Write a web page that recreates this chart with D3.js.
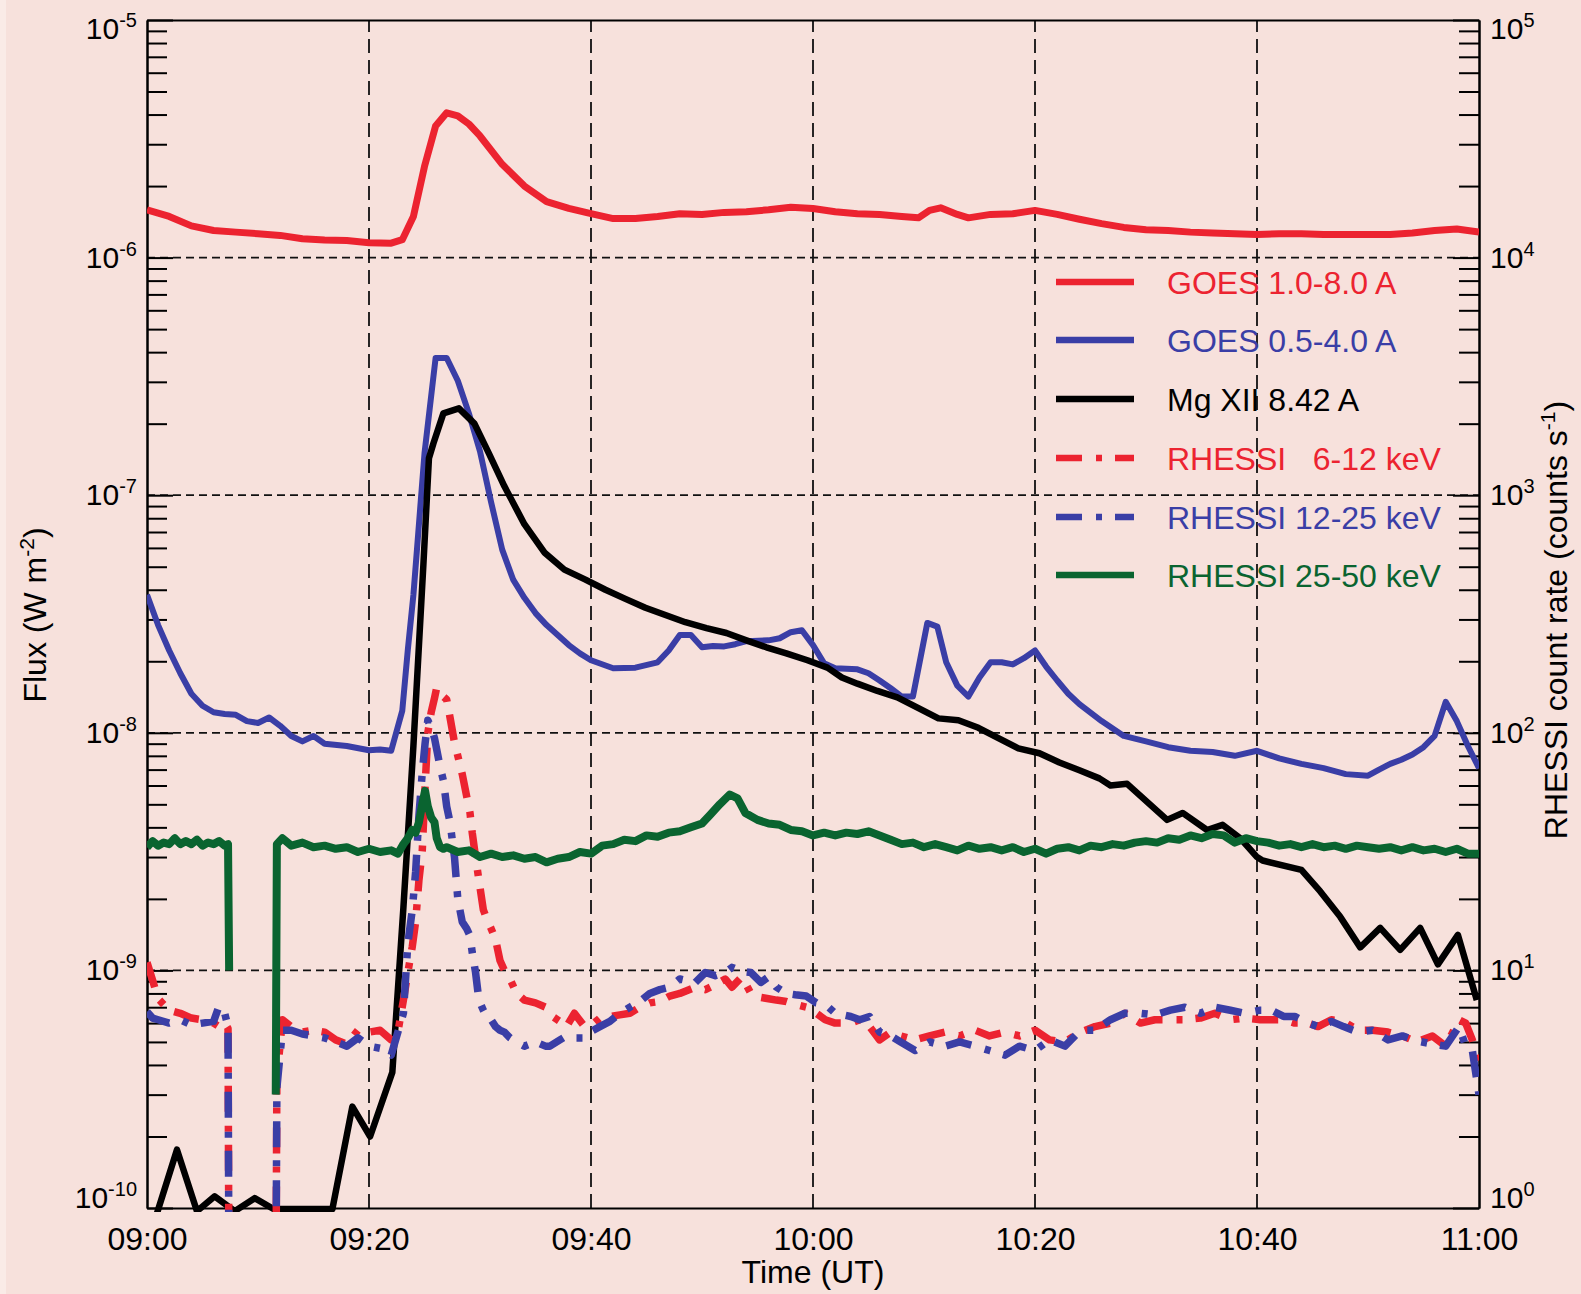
<!DOCTYPE html>
<html>
<head>
<meta charset="utf-8">
<script src="https://cdn.jsdelivr.net/npm/d3@7"></script>
<style>
  html, body { margin: 0; padding: 0; background: #f7e1dc; }
  svg text { font-family: "Liberation Sans", Arial, Helvetica, sans-serif; white-space: pre; }
</style>
</head>
<body>
<svg id="chart" width="1581" height="1294"></svg>
<script>
// ---------------- DATA ----------------
const xTickMinutes = [0, 20, 40, 60, 80, 100, 120];
const xTickLabels = ["09:00", "09:20", "09:40", "10:00", "10:20", "10:40", "11:00"];
const gridMinutes = [20, 40, 60, 80, 100];
const leftDecades = [-10, -9, -8, -7, -6, -5];
const rightDecades = [0, 1, 2, 3, 4, 5];
const gridFlux = [1e-9, 1e-8, 1e-7, 1e-6];

// GOES 1.0-8.0 A (W m^-2)
const goesLongTime = [0,2,4,6,8,10,12,14,16,18,20,22,
  23,24,25,26,27,28,29,30,
  32,34,36,38,40,42,44,46,48,50,52,54,56,58,60,62,64,66,68,
  69.5,70.5,71.5,73,74,
  76,78,80,82,84,86,88,90,92,94,96,98,100,102,104,106,108,110,112,114,116,118,120];
const goesLongFlux = [1.59e-6,1.49e-6,1.36e-6,1.30e-6,1.28e-6,1.26e-6,1.24e-6,1.20e-6,1.185e-6,1.18e-6,1.155e-6,1.15e-6,
  1.19e-6,1.49e-6,2.42e-6,3.58e-6,4.07e-6,3.95e-6,3.65e-6,3.25e-6,
  2.47e-6,2.0e-6,1.72e-6,1.61e-6,1.53e-6,1.46e-6,1.46e-6,1.49e-6,1.53e-6,1.52e-6,1.55e-6,1.56e-6,1.59e-6,1.63e-6,1.61e-6,1.56e-6,1.53e-6,1.52e-6,1.49e-6,
  1.47e-6,1.58e-6,1.62e-6,1.52e-6,1.47e-6,
  1.52e-6,1.53e-6,1.58e-6,1.52e-6,1.45e-6,1.39e-6,1.34e-6,1.31e-6,1.30e-6,1.28e-6,1.27e-6,1.26e-6,1.25e-6,1.26e-6,1.26e-6,1.25e-6,1.25e-6,1.25e-6,1.25e-6,1.27e-6,1.30e-6,1.32e-6,1.28e-6];

// GOES 0.5-4.0 A (W m^-2)
const goesShortTime = [0,1,2,3,4,5,6,7,8,9,10,11,12,13,14,15,16,
  18,20,21,22,
  23,23.5,24,25,26,27,28,29,30,31,32,33,34,35,36,37,38,39,40,
  42,44,46,47,48,49,50,51,52,53,54,
  56,57,58,59,60,61,62,
  64,65,66,67,68,69,
  70.3,71.2,
  72,73,74,75,76,77,78,79,80,81,82,83,84,
  86,88,90,92,94,96,98,100,102,104,106,108,110,
  111,112,113,114,115,116,117,118,119,120];
const goesShortFlux = [3.81e-8,2.84e-8,2.22e-8,1.78e-8,1.46e-8,1.30e-8,1.22e-8,1.20e-8,1.19e-8,1.12e-8,1.10e-8,1.16e-8,1.07e-8,0.97e-8,0.92e-8,0.97e-8,0.90e-8,
  0.88e-8,0.845e-8,0.85e-8,0.84e-8,
  1.24e-8,2.24e-8,3.8e-8,15e-8,37.8e-8,37.8e-8,30.3e-8,22.1e-8,15.3e-8,9.35e-8,5.9e-8,4.4e-8,3.7e-8,3.19e-8,2.84e-8,2.58e-8,2.34e-8,2.16e-8,2.02e-8,
  1.87e-8,1.88e-8,1.98e-8,2.22e-8,2.58e-8,2.58e-8,2.29e-8,2.32e-8,2.31e-8,2.36e-8,2.43e-8,
  2.45e-8,2.5e-8,2.65e-8,2.7e-8,2.34e-8,1.96e-8,1.87e-8,
  1.85e-8,1.78e-8,1.66e-8,1.54e-8,1.42e-8,1.42e-8,
  2.9e-8,2.8e-8,
  1.98e-8,1.58e-8,1.42e-8,1.71e-8,1.98e-8,1.98e-8,1.94e-8,2.06e-8,2.22e-8,1.90e-8,1.66e-8,1.46e-8,1.32e-8,
  1.12e-8,0.97e-8,0.92e-8,0.87e-8,0.84e-8,0.83e-8,0.80e-8,0.84e-8,0.78e-8,0.74e-8,0.71e-8,0.67e-8,0.66e-8,
  0.70e-8,0.74e-8,0.77e-8,0.81e-8,0.87e-8,0.97e-8,1.35e-8,1.12e-8,0.88e-8,0.71e-8];

// Mg XII 8.42 A (W m^-2)
const mgTime = [0.9,2.7,4.5,6.1,7.9,9.7,11.4,16.7,18.5,20.1,
  22.1,23.1,24.0,24.9,25.4,25.8,26.7,28.1,29.5,30.8,
  32.2,34.0,35.8,37.6,39.5,41.3,43.1,44.9,46.7,48.5,
  50.4,52.2,54.0,55.8,57.6,59.5,61.3,62.6,64.0,65.8,
  67.6,69.5,71.3,73.1,74.9,76.7,78.5,80.4,82.2,84.0,
  85.8,86.8,88.3,91.9,93.3,95.5,96.9,98.5,100.0,100.5,
  104.0,105.7,107.5,109.3,111.1,112.9,114.7,116.3,118.1,119.8];
const mgFlux = [0.95e-10,1.76e-10,0.97e-10,1.12e-10,0.97e-10,1.1e-10,0.99e-10,0.99e-10,2.67e-10,2.0e-10,
  3.72e-10,1.84e-9,8.8e-9,5.1e-8,1.43e-7,1.65e-7,2.21e-7,2.32e-7,2.0e-7,1.5e-7,
  1.09e-7,7.55e-8,5.74e-8,4.86e-8,4.41e-8,4.0e-8,3.66e-8,3.36e-8,3.13e-8,2.92e-8,
  2.76e-8,2.63e-8,2.45e-8,2.29e-8,2.16e-8,2.02e-8,1.88e-8,1.71e-8,1.61e-8,1.50e-8,
  1.41e-8,1.27e-8,1.15e-8,1.13e-8,1.05e-8,9.5e-9,8.6e-9,8.2e-9,7.5e-9,6.95e-9,
  6.43e-9,6.0e-9,6.1e-9,4.3e-9,4.6e-9,3.9e-9,4.1e-9,3.6e-9,3.0e-9,2.9e-9,
  2.65e-9,2.15e-9,1.68e-9,1.25e-9,1.51e-9,1.22e-9,1.51e-9,1.06e-9,1.41e-9,7.5e-10];

// RHESSI 6-12 and 12-25 keV (counts s^-1), shared time base (minutes after 09:00)
const rhessiTime = [0,0.5,1,2,3,4,5,6,6.5,7,
  7.3,7.4,9.5,11.6,11.7,12.2,13,14,15,16,
  17,18,19,20,21,22,22.6,23.1,23.5,23.9,
  24.2,24.5,24.8,25.05,25.3,25.6,25.9,26.1,26.4,26.7,
  27,27.3,27.7,28,28.4,28.8,29.1,29.3,29.6,29.9,
  30.3,30.6,31,31.4,31.8,32.2,32.7,33.3,34,35,
  35.9,36.3,37.2,37.8,38.5,39.3,39.9,40.8,41.7,42.6,
  43.5,44.4,45.3,46.2,47.1,48,49.4,50.3,51.2,52.1,
  52.7,53.6,54.4,55.3,56,56.7,57.6,58.4,59.4,60.3,
  61.1,62,63.4,64.2,65.1,66,67,67.9,69.2,70.5,
  71.9,73.2,74.6,75.9,77.3,78.6,80,81.3,82.7,84.1,
  85.4,86.8,88.1,89.5,90.8,92.2,93.5,94.9,96.2,97.6,
  98.9,100.3,101.3,102.4,103.4,104.6,105.5,106.7,107.8,109.1,
  110.4,111.8,113.1,114.4,115.8,117,118.2,118.8,119.4,120];
const rhessiLow = [10.8,9.1,7.6,6.8,6.6,6.3,6.2,6.0,5.8,6.0,
  5.7,0.3,0.3,0.3,3.5,6.2,5.8,5.5,5.6,5.5,
  5.1,4.9,5.6,5.5,5.6,5.1,5.5,7.5,9.8,12.6,
  16,24,32,59,100,122,140,155,150,142,
  138,116,91,80,67,54,46,38,30,24,
  18,16.5,15,13.5,11,10,9.2,8,7.5,7.3,
  7.0,6.5,6.1,5.8,6.6,5.9,5.8,6.3,6.4,6.5,
  6.6,7.0,7.3,7.4,7.8,8.0,8.5,8.3,8.7,9.2,
  8.5,9.4,8.0,7.7,7.6,7.5,7.4,7.2,7.0,6.6,
  6.2,6.0,6.0,6.2,5.8,5.1,5.5,5.3,5.1,5.3,
  5.5,5.3,5.6,5.3,5.5,5.3,5.6,5.1,5.0,5.5,
  5.8,6.0,6.6,6.0,6.2,6.2,6.2,6.3,6.6,6.2,
  6.3,6.2,6.2,6.2,6.0,6.0,5.8,6.2,6.1,5.6,
  5.6,5.5,5.3,5.0,5.3,4.8,6.2,6.0,5.1,4.0];
const rhessiMid = [6.7,6.3,6.2,6.0,6.2,5.9,6.0,6.1,7.1,6.6,
  5.8,0.3,0.3,0.3,3.2,5.6,5.6,5.4,5.3,5.2,
  5.0,4.8,5.2,4.8,4.7,4.4,5.5,6.6,13,18,
  26,45,68,90,113,105,95,85,72,63,
  49,42,30,20,16,15,14,11.9,9.8,7.5,
  6.8,6.4,6.2,5.8,5.6,5.5,5.2,5.0,4.8,5.0,
  4.8,4.8,5.1,5.3,5.2,5.2,5.5,5.8,6.1,6.6,
  7.0,7.4,8.0,8.3,8.5,9.2,8.9,9.8,9.5,9.8,
  10.3,9.9,9.8,8.9,9.4,8.5,8.0,7.9,7.8,7.3,
  7.2,6.6,6.4,6.2,6.4,5.5,5.3,5.0,4.6,5.0,
  4.8,5.0,4.8,4.6,4.4,4.8,4.6,5.1,4.8,5.6,
  5.6,6.2,6.6,6.6,6.5,6.8,7.0,6.6,7.0,6.8,
  6.6,6.8,6.8,6.4,6.4,6.0,5.8,6.1,5.8,5.5,
  5.6,5.1,5.3,5.05,4.9,4.8,5.8,4.8,4.6,3.0];

// RHESSI 25-50 keV (counts s^-1); null = no data
const hardTime = [0,0.5,1,1.5,2,2.5,3,3.5,4,4.5,5,5.5,6,6.5,7,7.3,7.4,9.5,
  11.6,11.7,12.2,13,14,15,16,17,18,19,20,21,22,22.6,23.1,23.5,23.9,24.2,24.5,24.8,25.05,25.3,25.6,25.9,26.1,26.4,26.7,27,
  28,29,30,31,32,33,34,35,36,37,38,39,40,41,42,43,44,45,46,47,48,49,50,50.7,51.6,52.5,53.2,53.9,55,
  56,57,58,59,60,61,62,63,64,65,66,67,68,69,70,71,72,73,74,75,76,77,78,79,80,
  81,82,83,84,85,86,87,88,89,90,91,92,93,94,95,96,97,98,99,100,
  101,102,103,104,105,106,107,108,109,110,111,112,113,114,115,116,117,118,119,120];
const rhessiHigh = [33,35,33.5,34.5,34,36,34,35,34,35.5,33.5,34.5,34,35,33.5,34,10,null,
  3,34,36,33.5,34.5,33,33.5,32.5,33,31.5,32.5,31.5,32,31,34,36,39,38,42,50,57,49,44,42,36,33,32.5,33,
  31.5,32,30,31,30,30.5,29.5,30,28.5,29.5,30,31.5,31,33.5,34,35.5,35,37,36.5,38,38.5,40,41.5,45,50,55,53,46,43,
  41.5,41,39,38.5,37,38,37,38,37.5,38.5,37,35.5,34,34.5,33,34,33,32,33.5,32.5,33,32,33,31.5,32.5,
  31,32.5,33,32,33.5,33,34,33.5,34.5,35,34.5,36,35.5,37,36,37.5,37,34.5,36,35,
  34.5,33.5,34,33,34,33,33.5,32.5,33.5,33,32.5,33,32,33,32,32.5,31.5,32.5,31,31];

const legendLabels = ["GOES 1.0-8.0 A", "GOES 0.5-4.0 A", "Mg XII 8.42 A", "RHESSI   6-12 keV", "RHESSI 12-25 keV", "RHESSI 25-50 keV"];
const seriesColors = ["#ec2330", "#3a3ea6", "#000000", "#ec2330", "#3a3ea6", "#0a6430"];
const seriesDash = [null, null, null, "26,14,6,13", "26,14,6,13", null];

// ---------------- DRAW ----------------
const svg = d3.select("#chart");
const L = 147, R = 1479, T = 20, B = 1208;

svg.append("rect").attr("width", 1581).attr("height", 1294).attr("fill", "#f7e1dc");
svg.append("rect").attr("width", 6).attr("height", 1294).attr("fill", "#faebe7");

const x = d3.scaleLinear().domain([0, 120]).range([L, R]);
const yL = d3.scaleLog().domain([1e-10, 1e-5]).range([B, T]);
const yR = d3.scaleLog().domain([1, 1e5]).range([B, T]);

// grid
svg.append("g").selectAll("line").data(gridFlux).join("line")
  .attr("x1", L).attr("x2", R).attr("y1", d => yL(d)).attr("y2", d => yL(d))
  .attr("stroke", "#111").attr("stroke-width", 1.8).attr("stroke-dasharray", "8,5");
svg.append("g").selectAll("line").data(gridMinutes).join("line")
  .attr("x1", d => x(d)).attr("x2", d => x(d)).attr("y1", B).attr("y2", T)
  .attr("stroke", "#111").attr("stroke-width", 1.8).attr("stroke-dasharray", "14,7");

// minor tick values
const minorL = [], minorR = [];
for (let e = -10; e < -5; e++) for (let m = 2; m <= 9; m++) minorL.push(m * Math.pow(10, e));
for (let e = 0; e < 5; e++) for (let m = 2; m <= 9; m++) minorR.push(m * Math.pow(10, e));

function styleAxis(g) {
  g.selectAll("path.domain").attr("stroke", "#000").attr("stroke-width", 2);
  g.selectAll(".tick line").attr("stroke", "#000").attr("stroke-width", 2);
}

svg.append("g").attr("transform", `translate(${L},0)`)
  .call(d3.axisLeft(yL).tickValues(minorL).tickSize(-20).tickSizeOuter(0).tickFormat(""))
  .call(styleAxis);
svg.append("g").attr("transform", `translate(${L},0)`)
  .call(d3.axisLeft(yL).tickValues(leftDecades.map(e => Math.pow(10, e))).tickSize(-26).tickSizeOuter(0).tickFormat(""))
  .call(styleAxis);
svg.append("g").attr("transform", `translate(${R},0)`)
  .call(d3.axisRight(yR).tickValues(minorR).tickSize(-20).tickSizeOuter(0).tickFormat(""))
  .call(styleAxis);
svg.append("g").attr("transform", `translate(${R},0)`)
  .call(d3.axisRight(yR).tickValues(rightDecades.map(e => Math.pow(10, e))).tickSize(-26).tickSizeOuter(0).tickFormat(""))
  .call(styleAxis);
svg.append("g").attr("transform", `translate(0,${T})`)
  .call(d3.axisTop(x).tickValues([]).tickSizeOuter(0))
  .call(styleAxis);
const bottomAxis = svg.append("g").attr("transform", `translate(0,${B})`)
  .call(d3.axisBottom(x).tickValues(xTickMinutes).tickSize(0).tickSizeOuter(0).tickPadding(19)
    .tickFormat((d, i) => xTickLabels[i]))
  .call(styleAxis);
bottomAxis.selectAll("text").attr("font-size", 32).attr("fill", "#000")
  .attr("font-family", "Liberation Sans, Arial, sans-serif");

// decade labels with superscripts
function decadeLabel(sel, exps, xpos, anchor, scale) {
  sel.selectAll(".declabel").data(exps).join("text").attr("class", "declabel")
    .attr("x", xpos)
    .attr("y", (e, i) => {
      let adj = 0;
      if (i === 0) adj = -10;
      if (i === exps.length - 1) adj = 9;
      return scale(Math.pow(10, e)) + 10 + adj;
    })
    .attr("text-anchor", anchor).attr("fill", "#000")
    .each(function (e) {
      const t = d3.select(this);
      t.append("tspan").attr("font-size", 30).text("10");
      t.append("tspan").attr("font-size", 20).attr("dy", -12).text(String(e));
    });
}
decadeLabel(svg.append("g"), leftDecades, 137, "end", yL);
decadeLabel(svg.append("g"), rightDecades, 1490, "start", yR);

// axis titles
svg.append("text").attr("x", 813).attr("y", 1283).attr("text-anchor", "middle")
  .attr("font-size", 32).attr("fill", "#000").text("Time (UT)");
const ft = svg.append("text").attr("transform", "translate(46,615) rotate(-90)")
  .attr("text-anchor", "middle").attr("font-size", 32).attr("fill", "#000");
ft.append("tspan").text("Flux (W m");
ft.append("tspan").attr("font-size", 21).attr("dy", -12).text("-2");
ft.append("tspan").attr("dy", 12).text(")");
const rt = svg.append("text").attr("transform", "translate(1567,620) rotate(-90)")
  .attr("text-anchor", "middle").attr("font-size", 32).attr("fill", "#000");
rt.append("tspan").text("RHESSI count rate (counts s");
rt.append("tspan").attr("font-size", 21).attr("dy", -12).text("-1");
rt.append("tspan").attr("dy", 12).text(")");

// data
svg.append("clipPath").attr("id", "plotclip").append("rect")
  .attr("x", L).attr("y", T - 4).attr("width", R - L).attr("height", B - T + 8);
const plot = svg.append("g").attr("clip-path", "url(#plotclip)");

const zip = (ts, vs) => ts.map((t, i) => ({ t, v: vs[i] }));
const lineL = d3.line().defined(d => d.v != null).x(d => x(d.t)).y(d => yL(d.v));
const lineR = d3.line().defined(d => d.v != null).x(d => x(d.t)).y(d => yR(d.v));

const series = [
  { d: zip(goesLongTime, goesLongFlux), gen: lineL, w: 7 },
  { d: zip(goesShortTime, goesShortFlux), gen: lineL, w: 6 },
  { d: zip(mgTime, mgFlux), gen: lineL, w: 6.5 },
  { d: zip(rhessiTime, rhessiLow), gen: lineR, w: 7.5 },
  { d: zip(rhessiTime, rhessiMid), gen: lineR, w: 7.5 },
  { d: zip(hardTime, rhessiHigh), gen: lineR, w: 8 }
];
series.forEach((s, i) => {
  plot.append("path").attr("d", s.gen(s.d))
    .attr("fill", "none").attr("stroke", seriesColors[i]).attr("stroke-width", s.w)
    .attr("stroke-linejoin", "round").attr("stroke-linecap", "butt")
    .attr("stroke-dasharray", seriesDash[i]);
});

// legend
const legendY = [282, 340, 399, 458, 517, 575];
const leg = svg.append("g");
legendLabels.forEach((lab, i) => {
  leg.append("line").attr("x1", 1056).attr("x2", 1134).attr("y1", legendY[i]).attr("y2", legendY[i])
    .attr("stroke", seriesColors[i]).attr("stroke-width", 6.5)
    .attr("stroke-dasharray", seriesDash[i]);
  leg.append("text").attr("x", 1167).attr("y", legendY[i] + 11.5)
    .attr("font-size", 32).attr("fill", seriesColors[i]).attr("xml:space", "preserve").text(lab);
});
</script>
</body>
</html>
